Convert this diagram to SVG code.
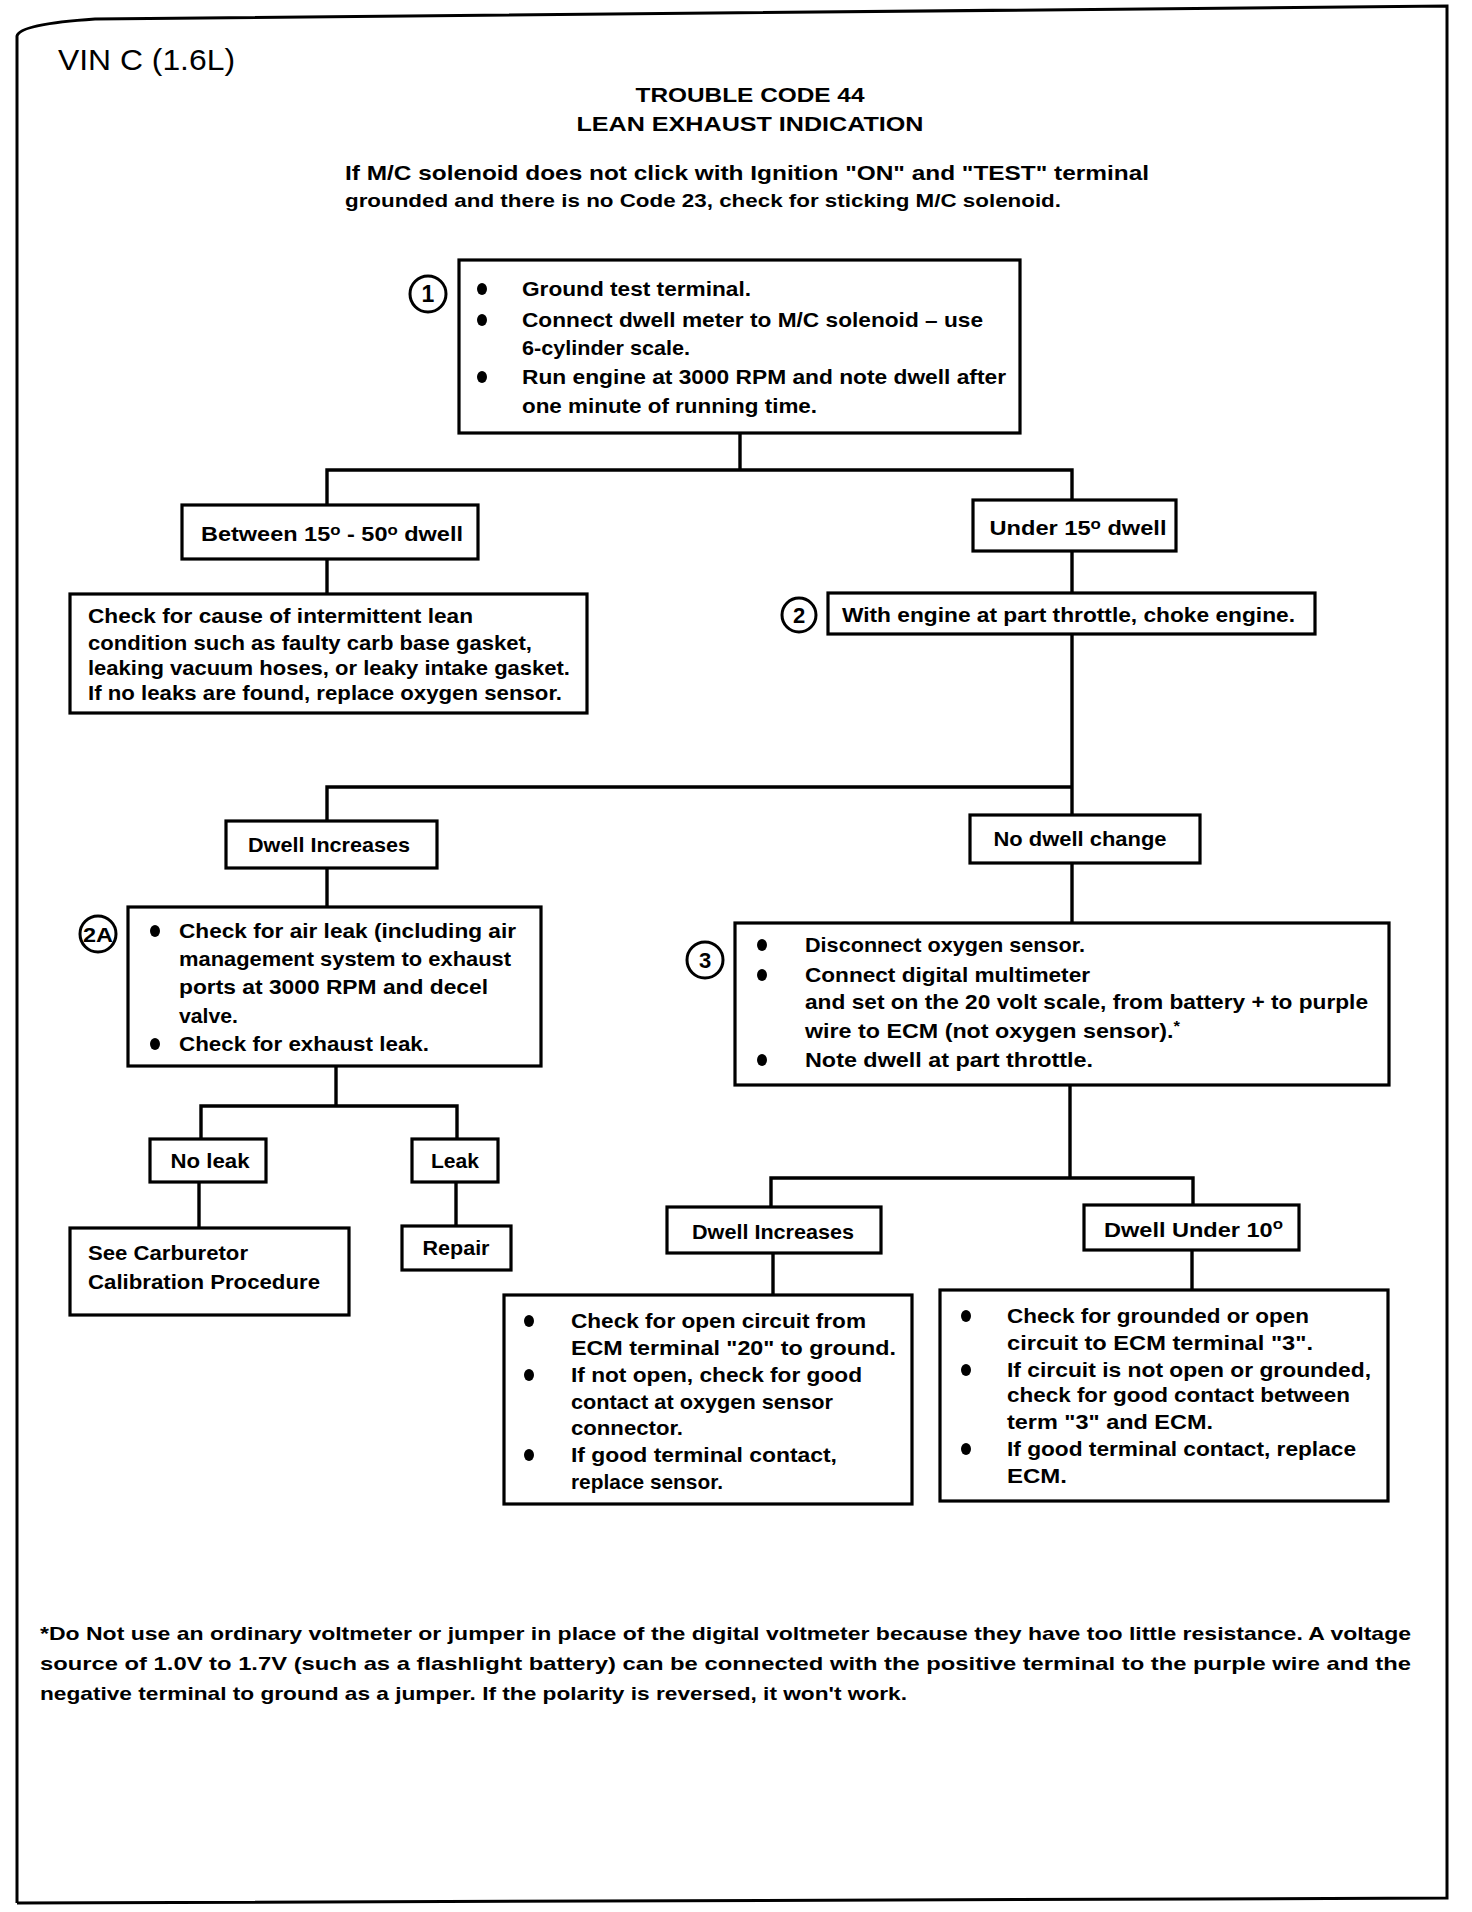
<svg xmlns="http://www.w3.org/2000/svg" width="1472" height="1912" viewBox="0 0 1472 1912">
<style>
.box{fill:#fff;stroke:#000;stroke-width:3.2}
.con{fill:none;stroke:#000;stroke-width:3.4}
.t{font-family:"Liberation Sans",Arial,sans-serif;font-weight:bold;font-size:21px;fill:#000}
.c{text-anchor:middle}
.num{fill:#fff;stroke:#000;stroke-width:3}
.b{fill:#000}
.deg{font-size:15px}
</style>
<rect x="0" y="0" width="1472" height="1912" fill="#fff"/>
<path d="M17 1903 L17 36 Q20 24 95 19 L1447 6 L1447 1898 L1200 1899 L17 1903" fill="none" stroke="#000" stroke-width="3"/>
<g id="header">
<text class="t" x="58" y="70" style="font-weight:normal;font-size:30px" textLength="177" lengthAdjust="spacingAndGlyphs">VIN C (1.6L)</text>
<text class="t c" x="750" y="102" textLength="229" lengthAdjust="spacingAndGlyphs">TROUBLE CODE 44</text>
<text class="t c" x="750" y="131" textLength="347" lengthAdjust="spacingAndGlyphs">LEAN EXHAUST INDICATION</text>
<text class="t" x="345" y="180" textLength="804" lengthAdjust="spacingAndGlyphs">If M/C solenoid does not click with Ignition "ON" and "TEST" terminal</text>
<text class="t" x="345" y="207" style="font-size:19px" textLength="716" lengthAdjust="spacingAndGlyphs">grounded and there is no Code 23, check for sticking M/C solenoid.</text>
</g>
<g id="connectors">
<path class="con" d="M740 433 V470"/>
<path class="con" d="M327 505 V470 H1072 V500"/>
<path class="con" d="M327 559 V594"/>
<path class="con" d="M1072 551 V593"/>
<path class="con" d="M1072 634 V815"/>
<path class="con" d="M327 821 V787 H1072"/>
<path class="con" d="M327 868 V907"/>
<path class="con" d="M336 1066 V1106"/>
<path class="con" d="M201 1139 V1106 H457 V1139"/>
<path class="con" d="M199 1182 V1228"/>
<path class="con" d="M456 1182 V1226"/>
<path class="con" d="M1072 863 V923"/>
<path class="con" d="M1070 1085 V1178"/>
<path class="con" d="M771 1207 V1178 H1193 V1205"/>
<path class="con" d="M773 1253 V1295"/>
<path class="con" d="M1192 1250 V1290"/>
</g>
<g id="step1">
<circle class="num" cx="428" cy="294" r="18"/>
<text class="t c" x="428" y="302" style="font-size:23px">1</text>
<rect class="box" x="459" y="260" width="561" height="173"/>
<ellipse class="b" cx="482" cy="289" rx="5" ry="6"/>
<ellipse class="b" cx="482" cy="320" rx="5" ry="6"/>
<ellipse class="b" cx="482" cy="377" rx="5" ry="6"/>
<text class="t" x="522" y="296" textLength="229" lengthAdjust="spacingAndGlyphs">Ground test terminal.</text>
<text class="t" x="522" y="327" textLength="461" lengthAdjust="spacingAndGlyphs">Connect dwell meter to M/C solenoid – use</text>
<text class="t" x="522" y="355" textLength="168" lengthAdjust="spacingAndGlyphs">6-cylinder scale.</text>
<text class="t" x="522" y="384" textLength="484" lengthAdjust="spacingAndGlyphs">Run engine at 3000 RPM and note dwell after</text>
<text class="t" x="522" y="413" textLength="295" lengthAdjust="spacingAndGlyphs">one minute of running time.</text>
</g>
<g id="between">
<rect class="box" x="182" y="505" width="296" height="54"/>
<text class="t c" x="332" y="541" textLength="262" lengthAdjust="spacingAndGlyphs">Between 15<tspan class="deg" dy="-6">o</tspan><tspan dy="6"> - 50</tspan><tspan class="deg" dy="-6">o</tspan><tspan dy="6"> dwell</tspan></text>
</g>
<g id="intermittent">
<rect class="box" x="70" y="594" width="517" height="119"/>
<text class="t" x="88" y="623" textLength="385" lengthAdjust="spacingAndGlyphs">Check for cause of intermittent lean</text>
<text class="t" x="88" y="650" textLength="444" lengthAdjust="spacingAndGlyphs">condition such as faulty carb base gasket,</text>
<text class="t" x="88" y="675" textLength="482" lengthAdjust="spacingAndGlyphs">leaking vacuum hoses, or leaky intake gasket.</text>
<text class="t" x="88" y="700" textLength="474" lengthAdjust="spacingAndGlyphs">If no leaks are found, replace oxygen sensor.</text>
</g>
<g id="under15">
<rect class="box" x="973" y="500" width="203" height="51"/>
<text class="t c" x="1078" y="535" textLength="177" lengthAdjust="spacingAndGlyphs">Under 15<tspan class="deg" dy="-6">o</tspan><tspan dy="6"> dwell</tspan></text>
</g>
<g id="step2">
<circle class="num" cx="799" cy="615" r="17"/>
<text class="t c" x="799" y="623" style="font-size:22px">2</text>
<rect class="box" x="828" y="593" width="487" height="41"/>
<text class="t" x="842" y="622" textLength="453" lengthAdjust="spacingAndGlyphs">With engine at part throttle, choke engine.</text>
</g>
<g id="dwellinc1">
<rect class="box" x="226" y="821" width="211" height="47"/>
<text class="t c" x="329" y="852" textLength="162" lengthAdjust="spacingAndGlyphs">Dwell Increases</text>
</g>
<g id="nodwell">
<rect class="box" x="970" y="815" width="230" height="48"/>
<text class="t c" x="1080" y="846" textLength="173" lengthAdjust="spacingAndGlyphs">No dwell change</text>
</g>
<g id="step2A">
<circle class="num" cx="98" cy="934" r="18"/>
<text class="t c" x="98" y="942" style="font-size:21px" textLength="30" lengthAdjust="spacingAndGlyphs">2A</text>
<rect class="box" x="128" y="907" width="413" height="159"/>
<ellipse class="b" cx="155" cy="931" rx="5" ry="6"/>
<ellipse class="b" cx="155" cy="1044" rx="5" ry="6"/>
<text class="t" x="179" y="938" textLength="337" lengthAdjust="spacingAndGlyphs">Check for air leak (including air</text>
<text class="t" x="179" y="966" textLength="332" lengthAdjust="spacingAndGlyphs">management system to exhaust</text>
<text class="t" x="179" y="994" textLength="309" lengthAdjust="spacingAndGlyphs">ports at 3000 RPM and decel</text>
<text class="t" x="179" y="1023" textLength="59" lengthAdjust="spacingAndGlyphs">valve.</text>
<text class="t" x="179" y="1051" textLength="250" lengthAdjust="spacingAndGlyphs">Check for exhaust leak.</text>
</g>
<g id="noleak">
<rect class="box" x="150" y="1139" width="116" height="43"/>
<text class="t c" x="210" y="1168" textLength="79" lengthAdjust="spacingAndGlyphs">No leak</text>
</g>
<g id="leak">
<rect class="box" x="412" y="1139" width="86" height="43"/>
<text class="t c" x="455" y="1168" textLength="48" lengthAdjust="spacingAndGlyphs">Leak</text>
</g>
<g id="carb">
<rect class="box" x="70" y="1228" width="279" height="87"/>
<text class="t" x="88" y="1260" textLength="160" lengthAdjust="spacingAndGlyphs">See Carburetor</text>
<text class="t" x="88" y="1289" textLength="232" lengthAdjust="spacingAndGlyphs">Calibration Procedure</text>
</g>
<g id="repair">
<rect class="box" x="402" y="1226" width="109" height="44"/>
<text class="t c" x="456" y="1255" textLength="67" lengthAdjust="spacingAndGlyphs">Repair</text>
</g>
<g id="step3">
<circle class="num" cx="705" cy="960" r="18"/>
<text class="t c" x="705" y="968" style="font-size:22px">3</text>
<rect class="box" x="735" y="923" width="654" height="162"/>
<ellipse class="b" cx="762" cy="945" rx="5" ry="6"/>
<ellipse class="b" cx="762" cy="975" rx="5" ry="6"/>
<ellipse class="b" cx="762" cy="1060" rx="5" ry="6"/>
<text class="t" x="805" y="952" textLength="280" lengthAdjust="spacingAndGlyphs">Disconnect oxygen sensor.</text>
<text class="t" x="805" y="982" textLength="285" lengthAdjust="spacingAndGlyphs">Connect digital multimeter</text>
<text class="t" x="805" y="1009" textLength="563" lengthAdjust="spacingAndGlyphs">and set on the 20 volt scale, from battery + to purple</text>
<text class="t" x="805" y="1038" textLength="375" lengthAdjust="spacingAndGlyphs">wire to ECM (not oxygen sensor).<tspan class="deg" dy="-7">*</tspan></text>
<text class="t" x="805" y="1067" textLength="288" lengthAdjust="spacingAndGlyphs">Note dwell at part throttle.</text>
</g>
<g id="dwellinc2">
<rect class="box" x="667" y="1207" width="214" height="46"/>
<text class="t c" x="773" y="1239" textLength="162" lengthAdjust="spacingAndGlyphs">Dwell Increases</text>
</g>
<g id="opencircuit">
<rect class="box" x="504" y="1295" width="408" height="209"/>
<ellipse class="b" cx="529" cy="1321" rx="5" ry="6"/>
<ellipse class="b" cx="529" cy="1375" rx="5" ry="6"/>
<ellipse class="b" cx="529" cy="1455" rx="5" ry="6"/>
<text class="t" x="571" y="1328" textLength="295" lengthAdjust="spacingAndGlyphs">Check for open circuit from</text>
<text class="t" x="571" y="1355" textLength="325" lengthAdjust="spacingAndGlyphs">ECM terminal "20" to ground.</text>
<text class="t" x="571" y="1382" textLength="291" lengthAdjust="spacingAndGlyphs">If not open, check for good</text>
<text class="t" x="571" y="1409" textLength="262" lengthAdjust="spacingAndGlyphs">contact at oxygen sensor</text>
<text class="t" x="571" y="1435" textLength="112" lengthAdjust="spacingAndGlyphs">connector.</text>
<text class="t" x="571" y="1462" textLength="266" lengthAdjust="spacingAndGlyphs">If good terminal contact,</text>
<text class="t" x="571" y="1489" textLength="152" lengthAdjust="spacingAndGlyphs">replace sensor.</text>
</g>
<g id="under10">
<rect class="box" x="1084" y="1205" width="215" height="45"/>
<text class="t" x="1104" y="1237" textLength="179" lengthAdjust="spacingAndGlyphs">Dwell Under 10<tspan class="deg" dy="-8">o</tspan></text>
</g>
<g id="grounded">
<rect class="box" x="940" y="1290" width="448" height="211"/>
<ellipse class="b" cx="966" cy="1316" rx="5" ry="6"/>
<ellipse class="b" cx="966" cy="1370" rx="5" ry="6"/>
<ellipse class="b" cx="966" cy="1449" rx="5" ry="6"/>
<text class="t" x="1007" y="1323" textLength="302" lengthAdjust="spacingAndGlyphs">Check for grounded or open</text>
<text class="t" x="1007" y="1350" textLength="306" lengthAdjust="spacingAndGlyphs">circuit to ECM terminal "3".</text>
<text class="t" x="1007" y="1377" textLength="364" lengthAdjust="spacingAndGlyphs">If circuit is not open or grounded,</text>
<text class="t" x="1007" y="1402" textLength="343" lengthAdjust="spacingAndGlyphs">check for good contact between</text>
<text class="t" x="1007" y="1429" textLength="206" lengthAdjust="spacingAndGlyphs">term "3" and ECM.</text>
<text class="t" x="1007" y="1456" textLength="349" lengthAdjust="spacingAndGlyphs">If good terminal contact, replace</text>
<text class="t" x="1007" y="1483" textLength="60" lengthAdjust="spacingAndGlyphs">ECM.</text>
</g>
<g id="footnote">
<text class="t" x="40" y="1640" style="font-size:19px" textLength="1371" lengthAdjust="spacingAndGlyphs">*Do Not use an ordinary voltmeter or jumper in place of the digital voltmeter because they have too little resistance. A voltage</text>
<text class="t" x="40" y="1670" style="font-size:19px" textLength="1371" lengthAdjust="spacingAndGlyphs">source of 1.0V to 1.7V (such as a flashlight battery) can be connected with the positive terminal to the purple wire and the</text>
<text class="t" x="40" y="1700" style="font-size:19px" textLength="867" lengthAdjust="spacingAndGlyphs">negative terminal to ground as a jumper. If the polarity is reversed, it won't work.</text>
</g>
</svg>
